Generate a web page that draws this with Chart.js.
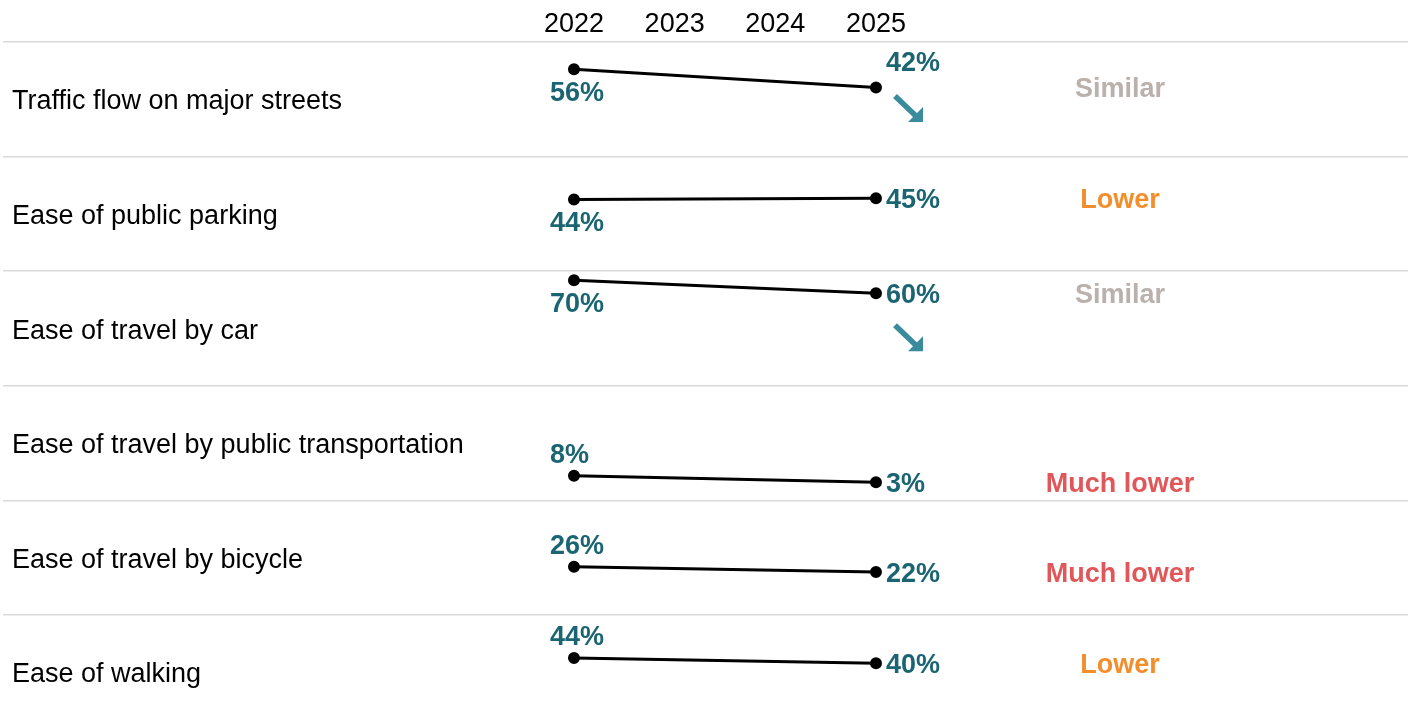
<!DOCTYPE html>
<html>
<head>
<meta charset="utf-8">
<script src="https://cdn.jsdelivr.net/npm/chart.js@4.4.1/dist/chart.umd.min.js"></script>
<style>
  html, body { margin: 0; padding: 0; background: #fff; }
  #wrap { width: 1413px; height: 724px; position: relative; }
</style>
</head>
<body>
<div id="wrap"><canvas id="chart"></canvas></div>
<script>
// data
const categories = [
    'Traffic flow on major streets',
    'Ease of public parking',
    'Ease of travel by car',
    'Ease of travel by public transportation',
    'Ease of travel by bicycle',
    'Ease of walking'
];
const years = [2022, 2023, 2024, 2025];
const values2022 = [56, 44, 70, 8, 26, 44];
const values2025 = [42, 45, 60, 3, 22, 40];
const comparison = ['Similar', 'Lower', 'Similar', 'Much lower', 'Much lower', 'Lower'];
const trend = ['down', null, 'down', null, null, null];

// look
const compColors = { 'Similar': '#bab0ac', 'Lower': '#f28e2b', 'Much lower': '#e15759' };
const label2022Above = [false, false, false, true, true, true];
const label2025Above = [true, false, false, false, false, false];
const valueColor = '#1b6573';
const arrowColor = '#3a8b9c';
const FONT = '"Liberation Sans", Arial, sans-serif';

const ROW = 87.75;   // one row in y units
const TOPV = 76.9;   // value at the top edge of a row
const n = categories.length;
const rowY = (i, v) => (n - 1 - i) * ROW + v;

const datasets = categories.map((c, i) => ({
    label: c,
    data: [{ x: 2022, y: rowY(i, values2022[i]) }, { x: 2025, y: rowY(i, values2025[i]) }],
    borderColor: '#000',
    backgroundColor: '#000',
    borderWidth: 3,
    pointRadius: 4.5,
    pointHoverRadius: 4.5,
    clip: false
}));

const textPlugin = {
    id: 'texts',
    afterDatasetsDraw(chart) {
        const ctx = chart.ctx;
        const xs = chart.scales.x, ys = chart.scales.y;
        ctx.save();
        ctx.textBaseline = 'middle';
        categories.forEach((c, i) => {
            const top = ys.getPixelForValue(rowY(i, TOPV));
            // category label
            ctx.font = '27px ' + FONT;
            ctx.fillStyle = '#000';
            ctx.textAlign = 'left';
            ctx.fillText(c, 12, top + 60);

            const x1 = xs.getPixelForValue(2022), x2 = xs.getPixelForValue(2025);
            const y1 = ys.getPixelForValue(rowY(i, values2022[i]));
            const y2 = ys.getPixelForValue(rowY(i, values2025[i]));

            ctx.font = 'bold 27px ' + FONT;
            ctx.fillStyle = valueColor;
            ctx.textAlign = 'left';
            ctx.fillText(values2022[i] + '%', x1 - 24, label2022Above[i] ? y1 - 20 : y1 + 24);
            ctx.fillText(values2025[i] + '%', x2 + 10, label2025Above[i] ? y2 - 24 : y2 + 2);

            // comparison text
            ctx.textAlign = 'center';
            ctx.fillStyle = compColors[comparison[i]];
            ctx.fillText(comparison[i], 1120, y2 + 2);

            // trend arrow
            if (trend[i] === 'down') {
                const cx = 908, cy = top + 66;
                ctx.strokeStyle = arrowColor;
                ctx.fillStyle = arrowColor;
                ctx.lineWidth = 5.5;
                ctx.beginPath();
                ctx.moveTo(cx - 13, cy - 12);
                ctx.lineTo(cx + 9, cy + 9);
                ctx.stroke();
                ctx.beginPath();
                ctx.moveTo(cx + 15, cy + 14);
                ctx.lineTo(cx, cy + 14);
                ctx.lineTo(cx + 15, cy - 1);
                ctx.closePath();
                ctx.fill();
            }
        });
        ctx.restore();
    }
};

new Chart(document.getElementById('chart'), {
    type: 'line',
    data: { datasets: datasets },
    plugins: [textPlugin],
    options: {
        responsive: true,
        maintainAspectRatio: false,
        animation: false,
        layout: { autoPadding: false, padding: { left: 3, right: 5, top: 0, bottom: 0 } },
        plugins: { legend: { display: false }, tooltip: { enabled: false } },
        scales: {
            x: {
                type: 'linear',
                position: 'top',
                min: 2016.328,
                max: 2030.285,
                afterBuildTicks: (s) => { s.ticks = years.map(v => ({ value: v })); },
                afterFit: (s) => { s.height = 42; },
                grid: { display: false, drawTicks: false },
                border: { display: false },
                ticks: {
                    font: { family: FONT, size: 27 },
                    color: '#000',
                    padding: 1,
                    autoSkip: false,
                    maxRotation: 0,
                    callback: (v) => String(v)
                }
            },
            y: {
                type: 'linear',
                min: -6.6,
                max: rowY(0, TOPV),
                afterBuildTicks: (s) => {
                    s.ticks = categories.map((c, i) => ({ value: rowY(i, TOPV) }));
                },
                afterFit: (s) => { s.width = 0; },
                grid: { color: '#d9d9d9', lineWidth: 1.5, drawTicks: false },
                border: { display: false },
                ticks: { display: false }
            }
        }
    }
});
</script>
</body>
</html>
